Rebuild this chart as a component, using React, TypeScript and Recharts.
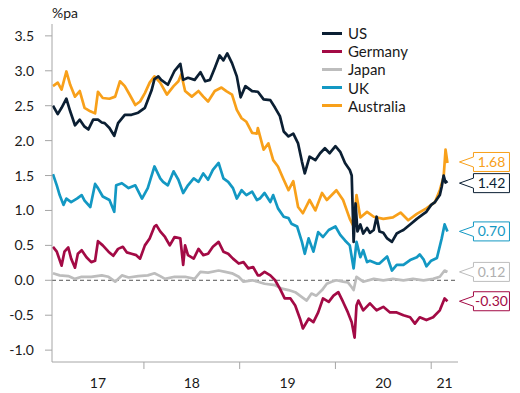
import React from 'react';
import { LineChart, Line, XAxis, YAxis, ReferenceLine, Legend, LabelList } from 'recharts';

// [decimal year, % pa]
const US: [number, number][] = [
  [2017.05, 2.50], [2017.10, 2.38], [2017.14, 2.47], [2017.19, 2.60], [2017.23, 2.42], [2017.28, 2.22],
  [2017.33, 2.30], [2017.38, 2.20], [2017.42, 2.16], [2017.47, 2.30], [2017.52, 2.30], [2017.56, 2.26],
  [2017.59, 2.25], [2017.64, 2.18], [2017.69, 2.07], [2017.73, 2.25], [2017.80, 2.37], [2017.87, 2.37],
  [2017.94, 2.40], [2018.01, 2.47], [2018.08, 2.72], [2018.11, 2.88], [2018.15, 2.92], [2018.18, 2.87],
  [2018.25, 2.80], [2018.32, 3.00], [2018.38, 3.10], [2018.41, 2.87], [2018.46, 2.90], [2018.53, 2.87],
  [2018.59, 2.98], [2018.64, 2.85], [2018.69, 2.87], [2018.74, 3.04], [2018.79, 3.22], [2018.83, 3.15],
  [2018.87, 3.25], [2018.92, 3.11], [2018.97, 2.92], [2019.01, 2.62], [2019.06, 2.78], [2019.13, 2.71],
  [2019.19, 2.70], [2019.25, 2.59], [2019.32, 2.58], [2019.37, 2.47], [2019.42, 2.35], [2019.46, 2.13],
  [2019.51, 2.06], [2019.56, 2.10], [2019.61, 1.96], [2019.65, 1.70], [2019.68, 1.53], [2019.73, 1.77],
  [2019.79, 1.72], [2019.84, 1.82], [2019.89, 1.89], [2019.94, 1.82], [2020.00, 1.92], [2020.05, 1.84],
  [2020.10, 1.68], [2020.15, 1.58], [2020.17, 1.50], [2020.19, 0.55], [2020.21, 1.10], [2020.23, 0.70],
  [2020.26, 0.80], [2020.29, 0.67], [2020.33, 0.75], [2020.36, 0.68], [2020.40, 0.72], [2020.43, 0.91],
  [2020.46, 0.70], [2020.50, 0.68], [2020.54, 0.60], [2020.59, 0.55], [2020.64, 0.67], [2020.68, 0.70],
  [2020.71, 0.72], [2020.78, 0.80], [2020.85, 0.88], [2020.92, 0.95], [2020.95, 0.98], [2021.00, 1.08],
  [2021.04, 1.12], [2021.09, 1.22], [2021.11, 1.34], [2021.13, 1.50], [2021.15, 1.40], [2021.17, 1.42],
];

const GERMANY: [number, number][] = [
  [2017.05, 0.48], [2017.09, 0.41], [2017.14, 0.21], [2017.17, 0.41], [2017.21, 0.47], [2017.24, 0.31],
  [2017.28, 0.18], [2017.31, 0.38], [2017.35, 0.43], [2017.40, 0.33], [2017.45, 0.26], [2017.49, 0.28],
  [2017.52, 0.56], [2017.57, 0.50], [2017.63, 0.41], [2017.68, 0.35], [2017.73, 0.45], [2017.78, 0.48],
  [2017.82, 0.40], [2017.87, 0.38], [2017.92, 0.36], [2017.96, 0.31], [2018.01, 0.50], [2018.06, 0.60],
  [2018.11, 0.77], [2018.13, 0.79], [2018.17, 0.70], [2018.22, 0.62], [2018.27, 0.50], [2018.32, 0.62],
  [2018.38, 0.60], [2018.41, 0.22], [2018.43, 0.50], [2018.46, 0.36], [2018.52, 0.31], [2018.57, 0.45],
  [2018.62, 0.36], [2018.67, 0.38], [2018.72, 0.48], [2018.78, 0.55], [2018.83, 0.41], [2018.88, 0.38],
  [2018.93, 0.31], [2018.99, 0.24], [2019.04, 0.26], [2019.09, 0.17], [2019.14, 0.19], [2019.19, 0.07],
  [2019.21, 0.07], [2019.26, 0.12], [2019.32, 0.07], [2019.37, 0.00], [2019.42, -0.12], [2019.47, -0.26],
  [2019.53, -0.26], [2019.58, -0.36], [2019.63, -0.55], [2019.66, -0.69], [2019.72, -0.55], [2019.77, -0.60],
  [2019.82, -0.46], [2019.87, -0.26], [2019.93, -0.31], [2019.98, -0.22], [2020.03, -0.17], [2020.08, -0.31],
  [2020.13, -0.46], [2020.17, -0.60], [2020.20, -0.82], [2020.22, -0.36], [2020.24, -0.29], [2020.29, -0.43],
  [2020.36, -0.33], [2020.43, -0.43], [2020.50, -0.38], [2020.57, -0.46], [2020.64, -0.46], [2020.71, -0.50],
  [2020.78, -0.53], [2020.83, -0.62], [2020.88, -0.53], [2020.95, -0.57], [2021.02, -0.53], [2021.09, -0.43],
  [2021.14, -0.26], [2021.17, -0.30],
];

const JAPAN: [number, number][] = [
  [2017.05, 0.10], [2017.12, 0.07], [2017.21, 0.06], [2017.28, 0.02], [2017.35, 0.05], [2017.45, 0.05],
  [2017.56, 0.07], [2017.63, 0.05], [2017.70, -0.02], [2017.77, 0.07], [2017.84, 0.04], [2017.94, 0.06],
  [2018.04, 0.07], [2018.11, 0.10], [2018.17, 0.06], [2018.22, 0.02], [2018.32, 0.05], [2018.43, 0.05],
  [2018.53, 0.02], [2018.59, 0.12], [2018.67, 0.11], [2018.78, 0.14], [2018.85, 0.12], [2018.92, 0.10],
  [2018.99, 0.05], [2019.04, -0.02], [2019.13, 0.00], [2019.19, -0.02], [2019.26, -0.05], [2019.37, -0.07],
  [2019.44, -0.12], [2019.51, -0.14], [2019.58, -0.17], [2019.65, -0.24], [2019.70, -0.29], [2019.75, -0.19],
  [2019.80, -0.22], [2019.86, -0.14], [2019.91, -0.05], [2019.96, -0.02], [2020.01, 0.00], [2020.08, -0.02],
  [2020.13, -0.03], [2020.17, -0.10], [2020.19, -0.14], [2020.22, 0.05], [2020.29, -0.02], [2020.40, 0.02],
  [2020.50, 0.00], [2020.60, 0.02], [2020.71, 0.00], [2020.81, 0.02], [2020.92, 0.00], [2021.02, 0.02],
  [2021.09, 0.05], [2021.14, 0.14], [2021.17, 0.12],
];

const UK: [number, number][] = [
  [2017.05, 1.52], [2017.09, 1.36], [2017.12, 1.22], [2017.16, 1.08], [2017.19, 1.17], [2017.24, 1.12],
  [2017.30, 1.17], [2017.35, 1.22], [2017.38, 1.14], [2017.44, 1.05], [2017.49, 1.38], [2017.52, 1.32],
  [2017.57, 1.20], [2017.64, 1.15], [2017.69, 0.98], [2017.71, 1.36], [2017.77, 1.39], [2017.84, 1.32],
  [2017.91, 1.36], [2017.98, 1.17], [2018.04, 1.32], [2018.11, 1.63], [2018.17, 1.46], [2018.20, 1.41],
  [2018.25, 1.36], [2018.31, 1.56], [2018.36, 1.44], [2018.41, 1.25], [2018.46, 1.36], [2018.52, 1.46],
  [2018.57, 1.41], [2018.62, 1.53], [2018.67, 1.44], [2018.72, 1.58], [2018.78, 1.68], [2018.83, 1.46],
  [2018.88, 1.41], [2018.93, 1.32], [2018.97, 1.17], [2019.02, 1.29], [2019.07, 1.22], [2019.13, 1.27],
  [2019.18, 1.15], [2019.21, 1.17], [2019.26, 1.25], [2019.32, 1.12], [2019.35, 1.22], [2019.40, 1.03],
  [2019.46, 0.91], [2019.51, 0.89], [2019.54, 0.81], [2019.60, 0.77], [2019.65, 0.55], [2019.68, 0.38],
  [2019.72, 0.60], [2019.77, 0.41], [2019.82, 0.69], [2019.87, 0.62], [2019.93, 0.72], [2020.00, 0.77],
  [2020.05, 0.65], [2020.10, 0.57], [2020.15, 0.50], [2020.19, 0.17], [2020.22, 0.55], [2020.26, 0.33],
  [2020.29, 0.43], [2020.33, 0.26], [2020.36, 0.28], [2020.43, 0.24], [2020.46, 0.24], [2020.54, 0.34],
  [2020.59, 0.14], [2020.64, 0.22], [2020.71, 0.22], [2020.78, 0.29], [2020.85, 0.33], [2020.88, 0.37],
  [2020.92, 0.30], [2020.95, 0.20], [2021.00, 0.28], [2021.06, 0.32], [2021.11, 0.60], [2021.14, 0.80],
  [2021.17, 0.70],
];

const AUSTRALIA: [number, number][] = [
  [2017.05, 2.78], [2017.10, 2.83], [2017.14, 2.73], [2017.19, 2.99], [2017.23, 2.80], [2017.28, 2.63],
  [2017.33, 2.71], [2017.38, 2.47], [2017.44, 2.42], [2017.49, 2.39], [2017.52, 2.70], [2017.57, 2.61],
  [2017.64, 2.60], [2017.70, 2.63], [2017.75, 2.85], [2017.80, 2.78], [2017.85, 2.66], [2017.91, 2.51],
  [2017.96, 2.56], [2018.01, 2.68], [2018.06, 2.83], [2018.11, 2.92], [2018.17, 2.83], [2018.24, 2.66],
  [2018.31, 2.78], [2018.36, 2.85], [2018.39, 2.95], [2018.43, 2.71], [2018.50, 2.63], [2018.57, 2.71],
  [2018.62, 2.63], [2018.67, 2.56], [2018.74, 2.71], [2018.81, 2.76], [2018.86, 2.71], [2018.92, 2.66],
  [2018.97, 2.44], [2019.02, 2.32], [2019.07, 2.27], [2019.13, 2.11], [2019.18, 2.10], [2019.19, 2.18],
  [2019.25, 1.87], [2019.30, 1.96], [2019.35, 1.72], [2019.40, 1.63], [2019.46, 1.44], [2019.51, 1.29],
  [2019.56, 1.42], [2019.61, 1.05], [2019.66, 0.96], [2019.73, 1.15], [2019.79, 1.00], [2019.86, 1.25],
  [2019.91, 1.15], [2020.01, 1.29], [2020.08, 1.15], [2020.15, 0.88], [2020.19, 0.77], [2020.22, 1.22],
  [2020.26, 0.90], [2020.33, 0.98], [2020.40, 0.91], [2020.50, 0.88], [2020.60, 0.90], [2020.68, 0.97],
  [2020.76, 0.86], [2020.85, 0.95], [2020.95, 1.03], [2021.04, 1.12], [2021.09, 1.29], [2021.13, 1.48],
  [2021.15, 1.87], [2021.17, 1.68],
];

const Y_TICKS = [-1, -0.5, 0, 0.5, 1, 1.5, 2, 2.5, 3, 3.5];
const YEAR_BOUNDARIES = [2018, 2019, 2020, 2021];
const YEAR_LABEL_POS = [2017.52, 2018.5, 2019.5, 2020.5, 2021.14];
const X_DOMAIN: [number, number] = [2017.04, 2021.28];
const Y_DOMAIN: [number, number] = [-1.17, 3.67];

const AXIS = '#a6a6a6';
const TEXT = '#1a1a1a';
const FONT = 'Lato, "Open Sans", sans-serif';
const Y_AXIS_WIDTH = 52;
const TOP_MARGIN = 24;

type S = { name: string; color: string; textColor: string; data: [number, number][]; dy: number };

const SERIES: S[] = [
  { name: 'US', color: '#0b1f33', textColor: '#0b1f33', data: US, dy: 2 },
  { name: 'Germany', color: '#a30a45', textColor: '#a30a45', data: GERMANY, dy: 0 },
  { name: 'Japan', color: '#bdbdbd', textColor: '#b0b0b0', data: JAPAN, dy: 0 },
  { name: 'UK', color: '#1398c3', textColor: '#1398c3', data: UK, dy: 0 },
  { name: 'Australia', color: '#f8a01a', textColor: '#f8a01a', data: AUSTRALIA, dy: -1 },
];

const DRAW_ORDER = ['Australia', 'UK', 'Japan', 'Germany', 'US'];

const toRows = (pairs: [number, number][]) => pairs.map(([t, v]) => ({ t, v }));

const XTick = (props: any) => {
  const { x, y, payload } = props;
  const v = payload.value as number;
  if (YEAR_BOUNDARIES.includes(v)) {
    return <line x1={x} x2={x} y1={y} y2={y + 7} stroke={AXIS} strokeWidth={1} />;
  }
  const label = String(Math.floor(v) % 100);
  return (
    <text x={x} y={y + 26} textAnchor="middle" fill={TEXT} fontSize={14} fontFamily={FONT}>
      {label}
    </text>
  );
};

const makeCallout = (s: S) => (props: any) => {
  const { x, y, index } = props;
  if (index !== s.data.length - 1 || x == null || y == null) return <g />;
  const value = s.data[s.data.length - 1][1];
  const tx = x + 12;
  const cy = y + s.dy;
  const bx = tx + 14;
  const bw = 36;
  const bh = 19;
  const d = `M${tx},${cy} L${bx},${cy - 5} L${bx},${cy - bh / 2} L${bx + bw},${cy - bh / 2} L${bx + bw},${cy + bh / 2} L${bx},${cy + bh / 2} L${bx},${cy + 5} Z`;
  return (
    <g>
      <path d={d} fill="#ffffff" stroke={s.color} strokeWidth={1} />
      <text x={bx + bw / 2} y={cy + 5} textAnchor="middle" fill={s.textColor} fontSize={14} fontFamily={FONT}>
        {value.toFixed(2)}
      </text>
    </g>
  );
};

const renderLegend = () => (
  <div style={{ display: 'flex', flexDirection: 'column', fontFamily: FONT }}>
    {SERIES.map((s) => (
      <div key={s.name} style={{ display: 'flex', alignItems: 'center', height: 18.2 }}>
        <span style={{ display: 'inline-block', width: 20, height: 3, background: s.color, marginRight: 6 }} />
        <span style={{ fontSize: 15, color: TEXT, lineHeight: '18px' }}>{s.name}</span>
      </div>
    ))}
  </div>
);

export default function App() {
  return (
    <div style={{ position: 'absolute', left: 0, top: 0, fontFamily: FONT }}>
      <LineChart width={520} height={393} margin={{ top: TOP_MARGIN, right: 62, bottom: 0, left: 0 }}>
        <XAxis
          xAxisId="x"
          type="number"
          dataKey="t"
          domain={X_DOMAIN}
          allowDataOverflow
          ticks={[...YEAR_LABEL_POS, ...YEAR_BOUNDARIES].sort((a, b) => a - b)}
          interval={0}
          tick={<XTick />}
          tickLine={false}
          tickSize={0}
          tickMargin={0}
          height={31}
          axisLine={{ stroke: AXIS, strokeWidth: 1 }}
        />
        <YAxis
          yAxisId="y"
          type="number"
          domain={Y_DOMAIN}
          allowDataOverflow
          ticks={Y_TICKS}
          interval={0}
          width={Y_AXIS_WIDTH}
          tickSize={7}
          tickMargin={11}
          tickFormatter={(v: number) => v.toFixed(1)}
          tick={{ fill: TEXT, fontSize: 14, fontFamily: FONT }}
          tickLine={{ stroke: AXIS }}
          axisLine={{ stroke: AXIS, strokeWidth: 1 }}
          label={{
            content: () => (
              <text x={Y_AXIS_WIDTH} y={TOP_MARGIN - 6} fill={TEXT} fontSize={14} fontFamily={FONT}>
                %pa
              </text>
            ),
          }}
        />
        <ReferenceLine xAxisId="x" yAxisId="y" y={0} stroke="#555555" strokeDasharray="4 3" strokeWidth={1} />
        {DRAW_ORDER.map((name) => {
          const s = SERIES.find((q) => q.name === name)!;
          return (
            <Line
              key={s.name}
              xAxisId="x"
              yAxisId="y"
              data={toRows(s.data)}
              dataKey="v"
              name={s.name}
              type="linear"
              stroke={s.color}
              strokeWidth={2.7}
              strokeLinejoin="round"
              dot={false}
              activeDot={false}
              isAnimationActive={false}
            >
              <LabelList dataKey="v" content={makeCallout(s)} />
            </Line>
          );
        })}
        <Legend
          layout="vertical"
          align="center"
          verticalAlign="middle"
          content={renderLegend}
          wrapperStyle={{ left: 322, top: 24, width: 'auto', height: 'auto' }}
        />
      </LineChart>
    </div>
  );
}
